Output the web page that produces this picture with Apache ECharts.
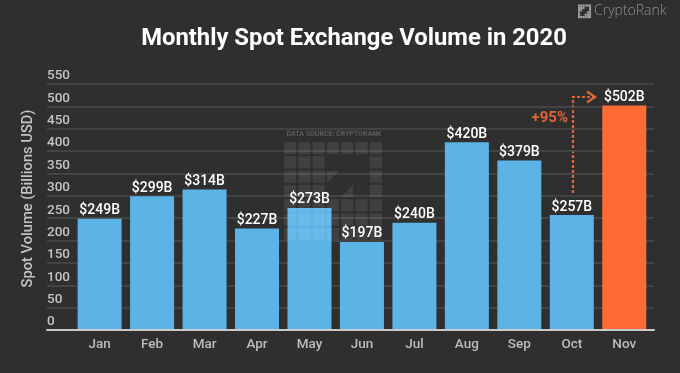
<!DOCTYPE html>
<html>
<head>
<meta charset="utf-8">
<style>html,body{margin:0;padding:0;background:#2f2f2f}#c{width:680px;height:373px}</style>
<script src="https://cdn.jsdelivr.net/npm/echarts@6/dist/echarts.min.js"></script>
</head>
<body>
<div id="c"></div>
<script>
const months = ['Jan','Feb','Mar','Apr','May','Jun','Jul','Aug','Sep','Oct','Nov'];
const volumes = [249,299,314,227,273,197,240,420,379,257,502];
const highlightMonth = 'Nov';
const titleText = 'Monthly Spot Exchange Volume in 2020';
const yAxisTitle = 'Spot Volume (Billions USD)';
const growthLabel = '+95%';
const sourceText = 'DATA SOURCE: CRYPTORANK';
const brandText = 'CryptoRank';
// watermark cell pattern, 7 x 7
const markPattern = ['1111111','1110001','1110001','1110001','1111111','1111111','1111111'];

const FONT = 'Roboto';
const BLUE = '#5cb3e6', ORANGE = '#ff6b35', ARROW = '#e0663a';
const WM_FILL = 'rgba(255,255,255,0.085)';

const wm = [];
markPattern.forEach((row, r) => [...row].forEach((v, c) => {
  if (v === '1') wm.push({type:'rect', silent:true, z:20,
    shape:{x:284 + c*14.3, y:142 + r*14.3, width:12.2, height:12.2, r:1},
    style:{fill:WM_FILL}});
}));
wm.push({type:'polygon', silent:true, z:20, shape:{points:[[327,171],[339,171],[327,183]]}, style:{fill:WM_FILL}});
wm.push({type:'polygon', silent:true, z:20, shape:{points:[[353,185],[353,197],[341,197]]}, style:{fill:WM_FILL}});
// brand icon
const icon = [];
for (let r=0;r<6;r++) for (let c=0;c<6;c++) {
  if (!(c>=1 && c<=4 && r>=1 && r<=4 && c+r>=4 && c+r<=6))
    icon.push({type:'rect', silent:true, shape:{x:578+c*2.2, y:4.5+r*2.3, width:2.1, height:2.2}, style:{fill:'#a0a0a0'}});
}

const chart = echarts.init(document.getElementById('c'), null, {renderer:'canvas'});
chart.setOption({
  animation:false,
  backgroundColor:'#2f2f2f',
  textStyle:{fontFamily:FONT},
  title:{text:titleText, left:349, top:22, textAlign:'center',
    textStyle:{color:'#fff', fontFamily:FONT, fontWeight:700, fontSize:23.8}},
  grid:[
    {left:47, width:607, top:84, height:246},
    {left:73.4, width:577.1, top:84, height:246}
  ],
  xAxis:[
    {gridIndex:0, type:'category', data:[''], axisTick:{show:false}, axisLabel:{show:false},
      axisLine:{show:true, lineStyle:{color:'#c9c9c9', width:2}}, z:6},
    {gridIndex:1, type:'category', data:months, axisTick:{show:false},
      axisLine:{show:false},
      axisLabel:{color:'#bdbdbd', fontFamily:FONT, fontWeight:500, fontSize:13.5, margin:8}}
  ],
  yAxis:[
    {gridIndex:0, type:'value', min:0, max:550, interval:50,
      name:yAxisTitle, nameLocation:'middle', nameGap:11, nameRotate:90,
      nameTextStyle:{color:'#c4c4c4', fontFamily:FONT, fontWeight:500, fontSize:14.7, padding:[0,0,0,17]},
      axisLine:{show:false}, axisTick:{show:false},
      axisLabel:{inside:true, margin:0, align:'left', verticalAlign:'bottom', lineHeight:16,
        color:'#c4c4c4', fontFamily:FONT, fontWeight:500, fontSize:13.5},
      splitLine:{show:true, lineStyle:{color:'#4b4b4b', width:1.5}}},
    {gridIndex:1, type:'value', min:0, max:550, interval:50, show:false, splitLine:{show:false}}
  ],
  series:[{
    type:'bar', xAxisIndex:1, yAxisIndex:1, barWidth:44, z:3,
    data:months.map((m,i)=>({value:volumes[i], itemStyle:{color:m===highlightMonth?ORANGE:BLUE}})),
    label:{show:true, position:'top', distance:1, color:'#fff', fontFamily:FONT, fontWeight:500, fontSize:14,
      formatter:p=>'$'+p.value+'B'}
  }],
  graphic:[
    ...wm,
    ...icon,
    {type:'text', silent:true, z:20, style:{x:334, y:134, text:sourceText, align:'center', verticalAlign:'middle',
      fill:'#5c5c5c', font:'700 7px Roboto'}},
    {type:'text', silent:true, style:{x:594, y:11.5, text:brandText, align:'left', verticalAlign:'middle',
      fill:'#8f8f8f', font:'300 14px "Open Sans"'}},
    {type:'text', silent:true, style:{x:568, y:118.5, text:growthLabel, align:'right', verticalAlign:'middle',
      fill:ARROW, font:'700 15px Roboto'}},
    {type:'polyline', silent:true, shape:{points:[[573,193],[573,97],[594,97]]},
      style:{stroke:ARROW, lineWidth:2.2, lineDash:[3,2], fill:null}},
    {type:'polyline', silent:true, shape:{points:[[587,91.5],[595,97],[587,102.5]]},
      style:{stroke:ARROW, lineWidth:2.2, fill:null}}
  ]
});
</script>
</body>
</html>
